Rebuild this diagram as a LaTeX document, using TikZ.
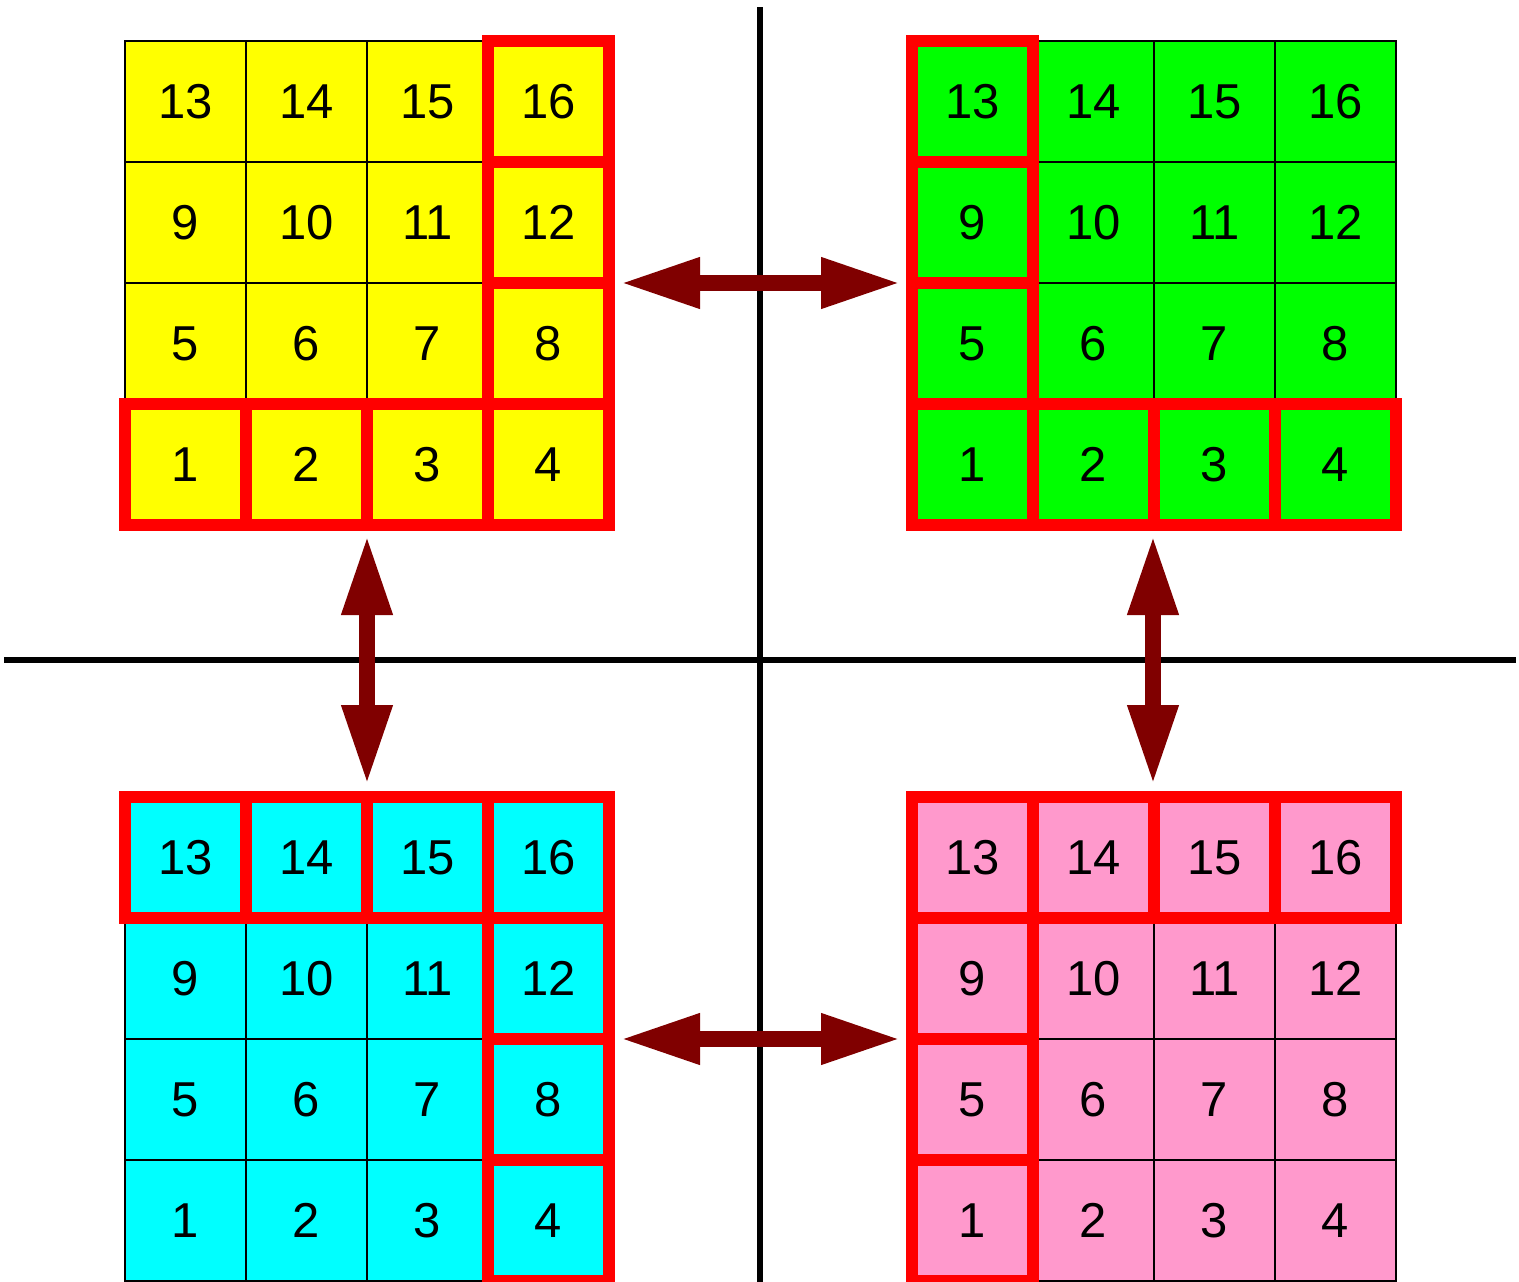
\documentclass[tikz,border=0pt]{standalone}
\usepackage{fontspec}
\setmainfont{Liberation Sans}
\usetikzlibrary{arrows.meta}
\definecolor{cellyellow}{RGB}{255,255,0}
\definecolor{cellgreen}{RGB}{0,255,0}
\definecolor{cellcyan}{RGB}{0,255,255}
\definecolor{cellpink}{RGB}{255,153,204}
\definecolor{hlred}{RGB}{255,0,0}
\definecolor{arrowred}{RGB}{128,0,0}
\tikzset{
  cellbox/.style={draw=black, line width=2pt, minimum width=121pt, minimum height=121pt,
    inner sep=0pt, outer sep=0pt, font=\fontsize{49}{59}\selectfont},
  hlbox/.style={draw=hlred, line width=12pt},
  axisline/.style={draw=black, line width=5.5pt},
  dblarrow/.style={draw=arrowred, line width=16pt,
    {Triangle[length=80pt,width=47pt]}-{Triangle[length=80pt,width=47pt]}}
}
\begin{document}
\begin{tikzpicture}[x=1pt,y=-1pt]
\useasboundingbox (0,0) rectangle (1519,1282);
% axis lines
\coordinate (vtop) at (760,7);
\coordinate (vbot) at (760,1282);
\coordinate (hleft) at (4,660);
\coordinate (hright) at (1516,660);
\draw[axisline] (vtop) -- (vbot);
\draw[axisline] (hleft) -- (hright);
% grids
\foreach \g/\ox/\oy/\col in {tl/125/41/cellyellow, tr/912/41/cellgreen, bl/125/797/cellcyan, br/912/797/cellpink}{
  \foreach \r in {0,...,3}{
    \foreach \c in {0,...,3}{
      \pgfmathtruncatemacro{\n}{4*\r+\c+1}
      \node[cellbox, fill=\col] (\g-\n) at ({\ox+(\c+0.5)*121},{\oy+(3.5-\r)*121}) {\n};
    }
  }
}
% highlighted cells
\foreach \n in {1,2,3,4,8,12,16}{\draw[hlbox] (tl-\n.south west) rectangle (tl-\n.north east);}
\foreach \n in {1,2,3,4,5,9,13}{\draw[hlbox] (tr-\n.south west) rectangle (tr-\n.north east);}
\foreach \n in {13,14,15,16,12,8,4}{\draw[hlbox] (bl-\n.south west) rectangle (bl-\n.north east);}
\foreach \n in {13,14,15,16,9,5,1}{\draw[hlbox] (br-\n.south west) rectangle (br-\n.north east);}
% arrows
\draw[dblarrow] ([xshift=11pt]tl-8.north east) -- ([xshift=-11pt]tr-5.north west);
\draw[dblarrow] ([xshift=11pt]bl-8.north east) -- ([xshift=-11pt]br-5.north west);
\draw[dblarrow] ([yshift=-10pt]tl-2.south east) -- ([yshift=12pt]bl-14.north east);
\draw[dblarrow] ([xshift=-1pt,yshift=-10pt]tr-2.south east) -- ([xshift=-1pt,yshift=12pt]br-14.north east);
\end{tikzpicture}
\end{document}
